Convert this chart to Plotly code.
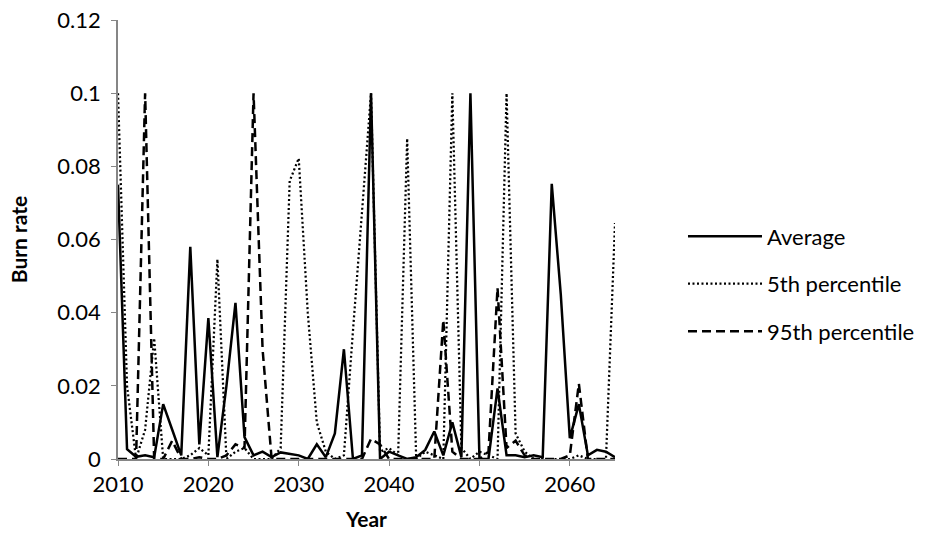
import plotly.graph_objects as go

years = list(range(2010, 2066))

average = [
    0.075, 0.0027, 0.0006, 0.001, 0.0005, 0.015, 0.008, 0.001, 0.058, 0.004,
    0.0385, 0.0005, 0.02, 0.0427, 0.006, 0.001, 0.002, 0.0005, 0.0018, 0.0015,
    0.001, 0.0, 0.004, 0.0005, 0.007, 0.030, 0.0, 0.001, 0.1, 0.0,
    0.002, 0.001, 0.0, 0.0005, 0.0025, 0.0075, 0.001, 0.010, 0.0005, 0.1,
    0.0, 0.0, 0.0193, 0.001, 0.001, 0.0005, 0.001, 0.0005, 0.0752, 0.045,
    0.0057, 0.015, 0.001, 0.0025, 0.002, 0.0005,
]

p5 = [
    0.1, 0.02, 0.0, 0.008, 0.033, 0.0, 0.0, 0.0, 0.001, 0.003,
    0.001, 0.0546, 0.0, 0.002, 0.003, 0.0, 0.0, 0.0, 0.003, 0.076,
    0.0822, 0.04, 0.01, 0.002, 0.0, 0.001, 0.035, 0.068, 0.1, 0.002,
    0.003, 0.001, 0.0876, 0.0, 0.002, 0.001, 0.0, 0.1, 0.003, 0.0,
    0.002, 0.001, 0.0, 0.1, 0.007, 0.002, 0.0, 0.0, 0.0, 0.0,
    0.0, 0.001, 0.0, 0.0, 0.0, 0.0645,
]

p95 = [
    0.0, 0.0, 0.0, 0.1, 0.0, 0.0, 0.005, 0.0, 0.0, 0.0005,
    0.0, 0.0, 0.001, 0.004, 0.003, 0.1, 0.03, 0.0, 0.0, 0.0,
    0.0, 0.0, 0.0, 0.0, 0.0, 0.0, 0.0, 0.0, 0.0055, 0.004,
    0.0, 0.0, 0.0, 0.0, 0.0, 0.0, 0.038, 0.002, 0.0, 0.0,
    0.0, 0.002, 0.0468, 0.003, 0.005, 0.001, 0.0, 0.0, 0.0, 0.0,
    0.001, 0.0206, 0.0, 0.0, 0.0, 0.0,
]

series_names = ["Average", "5th percentile", "95th percentile"]
x_ticks = [2010, 2020, 2030, 2040, 2050, 2060]
y_ticks = [0, 0.02, 0.04, 0.06, 0.08, 0.1, 0.12]

FONT = "Lato, Carlito, Calibri, sans-serif"

fig = go.Figure()
fig.add_trace(go.Scatter(x=years, y=average, mode="lines", name=series_names[0],
                         legendgroup="a",
                         line=dict(color="black", width=2.5)))
fig.add_trace(go.Scatter(x=years, y=p5, mode="lines", name=series_names[1],
                         legendgroup="b",
                         line=dict(color="black", width=2.25, dash="2px,2.5px")))
fig.add_trace(go.Scatter(x=years, y=p95, mode="lines", name=series_names[2],
                         legendgroup="c",
                         line=dict(color="black", width=2.5, dash="9px,5px")))

fig.update_layout(
    width=942, height=552,
    margin=dict(l=118, r=327, t=20, b=93, autoexpand=False),
    paper_bgcolor="white", plot_bgcolor="white",
    font=dict(family=FONT, size=22, color="black"),
    showlegend=True,
    legend=dict(x=1.1368, xanchor="left", y=0.399, yanchor="middle",
                font=dict(size=22), itemwidth=74, tracegroupgap=16,
                traceorder="grouped", bgcolor="rgba(0,0,0,0)"),
    xaxis=dict(range=[2010, 2065], tickmode="array", tickvals=x_ticks,
               showgrid=False, zeroline=False, showline=True,
               linecolor="#868686", linewidth=1.5,
               ticks="outside", ticklen=5, tickcolor="#868686",
               title=dict(text="<b>Year</b>", font=dict(size=21), standoff=16)),
    yaxis=dict(range=[0, 0.12], tickmode="array", tickvals=y_ticks,
               showgrid=False, zeroline=False, showline=True,
               linecolor="#868686", linewidth=1.5,
               ticks="outside", ticklen=5, tickcolor="#868686",
               ticklabelstandoff=6,
               title=dict(text="<b>Burn rate</b>", font=dict(size=21), standoff=24)),
)

fig.write_html("out.html",
               config={"displayModeBar": False},
               post_script="document.body.style.margin='0';document.body.style.overflow='hidden';")
